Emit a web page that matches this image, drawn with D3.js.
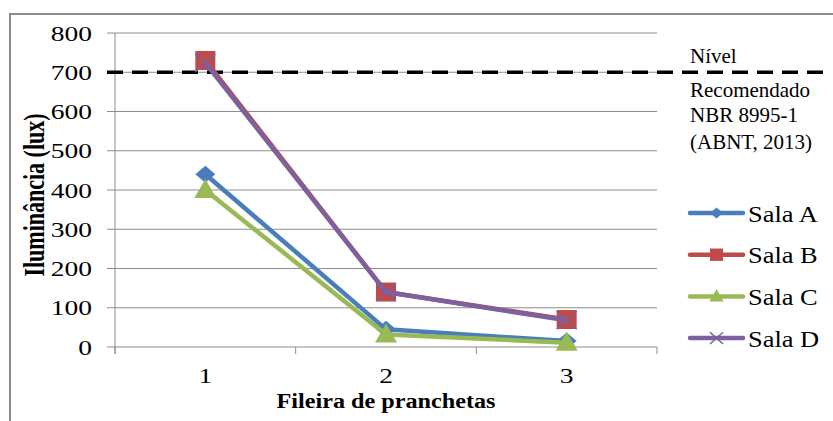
<!DOCTYPE html>
<html><head><meta charset="utf-8">
<script src="https://cdn.jsdelivr.net/npm/d3@7"></script>
<style>
body{margin:0;background:#fff}
svg{display:block}
svg text, .serif{font-family:"Liberation Serif","Times New Roman",Tinos,FreeSerif,serif !important}
</style>
</head><body><svg id="c" width="833" height="421" font-family="Liberation Serif"></svg>
<script>
const categories = ["1","2","3"];
const seriesNames = ["Sala A","Sala B","Sala C","Sala D"];
const salaA = [440, 45, 15];
const salaB = [730, 140, 70];
const salaC = [400, 32, 11];
const salaD = [724, 140, 68];
const yTicks = [0,100,200,300,400,500,600,700,800];
const recommended = 700;
const refLabel = ["Nível","Recomendado","NBR 8995-1","(ABNT, 2013)"];
const colors = ["#4a7ebb","#be4b48","#98b954","#7d60a0"];
const symbols = ["diamond","square","triangle","x"];

const series = seriesNames.map((n,i)=>({name:n, values:[salaA,salaB,salaC,salaD][i], color:colors[i], sym:symbols[i]}));

const svg = d3.select("#c");
const m = {l:115, r:657, t:33, b:347};
svg.append("rect").attr("x",10).attr("y",14).attr("width",840).attr("height",430)
  .attr("fill","none").attr("stroke","#8c8c8c").attr("stroke-width",2);

const x = d3.scaleBand().domain(categories).range([m.l,m.r]);
const y = d3.scaleLinear().domain([0,800]).range([m.b,m.t]);

function txt(sel){ sel.attr("class","serif").attr("font-family","Liberation Serif").style("font-family",'"Liberation Serif"').attr("fill","#000"); }

svg.append("g").selectAll("line").data(yTicks).join("line")
  .attr("x1",m.l-8).attr("x2",m.r).attr("y1",d=>y(d)).attr("y2",d=>y(d))
  .attr("stroke","#8c8c8c").attr("stroke-width",1);
svg.append("line").attr("x1",m.l).attr("x2",m.l).attr("y1",m.t).attr("y2",m.b+7).attr("stroke","#8c8c8c");
const bounds = [m.l, ...categories.map(c=>x(c)+x.bandwidth())];
svg.append("g").selectAll("line").data(bounds).join("line")
  .attr("x1",d=>d).attr("x2",d=>d).attr("y1",m.b).attr("y2",m.b+7).attr("stroke","#8c8c8c");

svg.append("g").selectAll("text").data(yTicks).join("text")
  .attr("transform",d=>`translate(92,${y(d)+7.5}) scale(1.25,1)`).attr("text-anchor","end")
  .attr("font-size",22).call(txt).text(d=>d);
svg.append("g").selectAll("text").data(categories).join("text")
  .attr("transform",d=>`translate(${x(d)+x.bandwidth()/2},383) scale(1.25,1)`).attr("text-anchor","middle")
  .attr("font-size",22).call(txt).text(d=>d);
svg.append("text").attr("transform","translate(44,195) rotate(-90) scale(1,1.3)").attr("text-anchor","middle")
  .attr("font-size",22).attr("font-weight","bold").call(txt).text("Iluminância (lux)");
svg.append("text").attr("transform","translate(386,408) scale(1.1,1)").attr("text-anchor","middle")
  .attr("font-size",22).attr("font-weight","bold").call(txt).text("Fileira de pranchetas");

svg.append("line").attr("x1",m.l-8).attr("x2",823).attr("y1",y(recommended)).attr("y2",y(recommended))
  .attr("stroke","#000").attr("stroke-width",3.5).attr("stroke-dasharray","16,9");
svg.append("g").selectAll("text").data(refLabel).join("text")
  .attr("x",690).attr("y",(d,i)=>[63,97,122,149][i]).attr("font-size",21).call(txt).text(d=>d);

const line = d3.line().x((d,i)=>x(categories[i])+x.bandwidth()/2).y(d=>y(d));
function marker(g, sym, color, cx, cy, k){
  if(sym==="diamond") g.append("path").attr("d",`M${cx},${cy-8.5*k}L${cx+10*k},${cy}L${cx},${cy+8.5*k}L${cx-10*k},${cy}Z`).attr("fill",color);
  else if(sym==="square") g.append("rect").attr("x",cx-10*k).attr("y",cy-9.5*k).attr("width",20*k).attr("height",19*k).attr("fill",color);
  else if(sym==="triangle") g.append("path").attr("d",`M${cx},${cy-11*k}L${cx+11*k},${cy+8*k}L${cx-11*k},${cy+8*k}Z`).attr("fill",color);
  else g.append("path").attr("d",`M${cx-10*k},${cy-9*k}L${cx+10*k},${cy+9*k}M${cx-10*k},${cy+9*k}L${cx+10*k},${cy-9*k}`).attr("stroke",color).attr("stroke-width",1.5);
}
series.forEach(s=>{
  const g = svg.append("g");
  g.append("path").datum(s.values).attr("d",line).attr("fill","none").attr("stroke",s.color).attr("stroke-width",4.5).attr("stroke-linejoin","round");
  s.values.forEach((v,i)=>marker(g,s.sym,s.color,x(categories[i])+x.bandwidth()/2,y(v),1));
});

const leg = svg.append("g");
series.forEach((s,i)=>{
  const ly = 213 + i*41.7;
  leg.append("line").attr("x1",690).attr("x2",743).attr("y1",ly).attr("y2",ly).attr("stroke",s.color).attr("stroke-width",4.5).attr("stroke-linecap","round");
  marker(leg,s.sym,s.color,716.5,ly,0.65);
  leg.append("text").attr("transform",`translate(748,${ly+8.5}) scale(1.15,1)`).attr("font-size",23).call(txt).text(s.name);
});
</script></body></html>
